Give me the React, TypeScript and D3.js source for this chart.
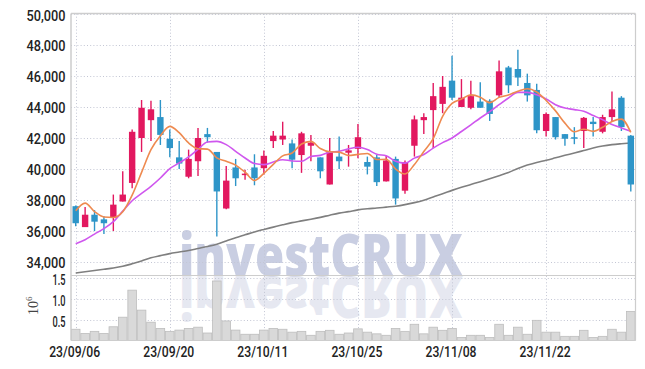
import React from "react";
import * as d3 from "d3";

const dates = [
  "23/09/06","23/09/07","23/09/08","23/09/11","23/09/12","23/09/13","23/09/14","23/09/15","23/09/18","23/09/19",
  "23/09/20","23/09/21","23/09/22","23/09/25","23/09/26","23/09/27","23/10/04","23/10/05","23/10/06","23/10/10",
  "23/10/11","23/10/12","23/10/13","23/10/16","23/10/17","23/10/18","23/10/19","23/10/20","23/10/23","23/10/24",
  "23/10/25","23/10/26","23/10/27","23/10/30","23/10/31","23/11/01","23/11/02","23/11/03","23/11/06","23/11/07",
  "23/11/08","23/11/09","23/11/10","23/11/13","23/11/14","23/11/15","23/11/16","23/11/17","23/11/20","23/11/21",
  "23/11/22","23/11/23","23/11/24","23/11/27","23/11/28","23/11/29","23/11/30","23/12/01","23/12/04","23/12/05",
];
const tickDates = ["23/09/06", "23/09/20", "23/10/11", "23/10/25", "23/11/08", "23/11/22"];

const open = [
  37600, 36250, 37050, 36750, 36850, 37900, 39100, 42000, 43150, 43350,
  41950, 40750, 39500, 40500, 42250, 41100, 37450, 40100, 39650, 40100,
  40050, 41800, 41900, 41650, 40900, 41500, 40750, 39000, 40800, 41050,
  41300, 40450, 40750, 39200, 40650, 38600, 41500, 43150, 43800, 44200,
  45700, 44000, 43950, 44350, 44400, 44750, 46550, 46450, 45550, 45100,
  42450, 43350, 42250, 42050, 42450, 43050, 42400, 43350, 44600, 42150,
];
const high = [
  37650, 37550, 37350, 36950, 38350, 39850, 42550, 44450, 44400, 44450,
  42550, 41800, 41250, 42650, 42650, 41100, 40200, 40650, 39950, 40950,
  41200, 42450, 43050, 41900, 42400, 42200, 40750, 42000, 42100, 41550,
  42900, 40800, 40900, 40850, 40800, 40550, 43450, 43600, 45550, 46000,
  47300, 45800, 45700, 45600, 44500, 47000, 46650, 47700, 46150, 45500,
  43650, 43350, 42250, 42700, 43350, 43350, 43500, 45000, 44700, 42200,
];
const low = [
  36300, 36250, 36000, 35800, 36000, 37900, 38750, 41100, 41800, 41550,
  40750, 40000, 39400, 39550, 41700, 35650, 37400, 38900, 39300, 38950,
  39650, 41350, 41550, 40050, 39750, 40500, 39400, 39000, 40000, 40150,
  40700, 39650, 38900, 39200, 37700, 38400, 40800, 42250, 41350, 43600,
  44450, 44000, 43850, 43950, 43100, 44650, 44900, 45350, 44350, 42300,
  42100, 41900, 41500, 41600, 41350, 42100, 42300, 43100, 42450, 38550,
];
const close = [
  36500, 37050, 36600, 36500, 37700, 38350, 42400, 43950, 43850, 42200,
  41350, 40350, 40650, 42000, 42050, 38550, 39250, 39400, 39700, 39400,
  40850, 42150, 42150, 40600, 42300, 41700, 39850, 41100, 40500, 41200,
  42050, 40150, 39150, 40550, 38100, 40450, 43200, 43350, 44700, 45300,
  44600, 44600, 44700, 43950, 43550, 46300, 45400, 45900, 44750, 42500,
  43550, 42050, 41950, 41950, 43300, 42900, 43350, 43850, 42700, 39000,
];
const volume = [
  0.27, 0.17, 0.22, 0.17, 0.33, 0.56, 1.21, 0.73, 0.44, 0.29,
  0.22, 0.25, 0.29, 0.32, 0.18, 1.43, 0.47, 0.25, 0.15, 0.15,
  0.25, 0.29, 0.27, 0.20, 0.22, 0.125, 0.22, 0.245, 0.15, 0.18,
  0.28, 0.20, 0.16, 0.125, 0.29, 0.22, 0.39, 0.16, 0.32, 0.245,
  0.29, 0.07, 0.125, 0.125, 0.07, 0.39, 0.125, 0.32, 0.15, 0.485,
  0.20, 0.20, 0.10, 0.10, 0.245, 0.07, 0.10, 0.27, 0.20, 0.70,
];
const ma5 = [
  37300, 37800, 37250, 36900, 36870, 37240, 38310, 39780, 41250, 42150,
  42750, 42340, 41680, 41310, 41280, 40720, 40500, 40250, 39790, 39260,
  39720, 40300, 40850, 41030, 41610, 41780, 41320, 41110, 41090, 40870,
  40940, 41000, 40610, 40620, 40000, 39680, 40290, 41130, 41960, 43400,
  44230, 44510, 44780, 44630, 44280, 44620, 44780, 45020, 45180, 44970,
  44420, 43750, 42960, 42400, 42560, 42430, 42690, 43070, 43220, 42360,
];
const ma20 = [
  35180, 35440, 35800, 36150, 36600, 37280, 37950, 38420, 38880, 39420,
  40020, 40390, 40780, 41270, 41740, 41780, 41570, 41140, 40710, 40350,
  40280, 40450, 40600, 40520, 40500, 40800, 40880, 41080, 41140, 41300,
  41400, 41250, 40950, 40850, 40500, 40380, 40700, 40930, 41350, 41700,
  42000, 42420, 42850, 43290, 43700, 44150, 44580, 44940, 44940, 44790,
  44520, 44150, 43930, 43830, 43720, 43450, 43180, 42870, 42650, 42430,
];
const ma60 = [
  33290, 33370, 33450, 33530, 33610, 33720, 33880, 34060, 34270, 34410,
  34540, 34640, 34740, 34870, 35000, 35150, 35350, 35560, 35750, 35940,
  36100, 36250, 36400, 36540, 36650, 36760, 36880, 37020, 37150, 37250,
  37360, 37430, 37480, 37540, 37600, 37700, 37830, 37990, 38200, 38400,
  38620, 38820, 39000, 39180, 39370, 39570, 39780, 40030, 40250, 40420,
  40560, 40720, 40880, 41030, 41190, 41350, 41480, 41570, 41630, 41680,
];
const priceTicks = [34000, 36000, 38000, 40000, 42000, 44000, 46000, 48000, 50000];
const volTicks = [0.5, 1.0, 1.5];

const W = 645;
const H = 369;
const L = 71;
const R = 635.5;
const TOP = 13.5;
const SEP = 275.5;
const BOT = 340.5;

const UP = "#e2185f";
const DOWN = "#2e95c8";
const GRID = "#c3c6d4";

export default function App() {
  const x = d3.scaleBand<string>().domain(dates).range([L, R]).padding(0);
  const cx = (d: string) => (x(d) as number) + x.bandwidth() / 2;
  const y = d3.scaleLinear().domain([33160, 50000]).range([275, 14]);
  const yv = d3.scaleLinear().domain([0, 1.56]).range([BOT, 275.6]);

  const line = (vals: number[]) =>
    d3
      .line<number>()
      .x((_, i) => cx(dates[i]))
      .y((v) => y(v))
      .curve(d3.curveMonotoneX)(vals) as string;

  const bw = 6.4;
  const labelFont = "Roboto, 'Noto Sans', sans-serif";

  return (
    <svg
      width={W}
      height={H}
      style={{ position: "absolute", left: 0, top: 0, background: "#fff" }}
    >
      {/* watermark with mirrored reflection */}
      <g fontFamily="'Open Sans', 'Noto Sans', sans-serif" fontWeight={800} fontSize={58}>
        <g transform={`translate(0, ${2 * SEP}) scale(1,-1)`}>
          <text x={179} y={SEP} fill="#e6e8f1" textLength={284} lengthAdjust="spacingAndGlyphs">
            investCRUX
          </text>
        </g>
        <text x={179} y={SEP} fill="#c9cee2" textLength={284} lengthAdjust="spacingAndGlyphs">
          investCRUX
        </text>
      </g>

      {/* grid */}
      <g stroke={GRID} strokeDasharray="1 2.2" strokeWidth={1}>
        {priceTicks.map((t) => (
          <line key={"p" + t} x1={L} x2={R} y1={Math.round(y(t)) + 0.5} y2={Math.round(y(t)) + 0.5} />
        ))}
        {volTicks.map((t) => (
          <line key={"v" + t} x1={L} x2={R} y1={Math.round(yv(t)) + 0.5} y2={Math.round(yv(t)) + 0.5} />
        ))}
        {tickDates.map((d) => (
          <line key={"x" + d} x1={Math.round(cx(d)) + 0.5} x2={Math.round(cx(d)) + 0.5} y1={TOP} y2={BOT} />
        ))}
      </g>

      {/* volume bars */}
      <g fill="#d9d9d9" stroke="#bdbdbd" strokeWidth={0.8}>
        {dates.map((d, i) => (
          <rect
            key={"vb" + d}
            x={(x(d) as number) + 0.4}
            y={yv(volume[i])}
            width={x.bandwidth() - 0.8}
            height={BOT - yv(volume[i])}
          />
        ))}
      </g>

      {/* frame */}
      <g stroke="#cdcdcd" fill="none">
        <line x1={L} x2={R} y1={TOP} y2={TOP} strokeWidth={1.5} />
        <line x1={L} x2={R} y1={SEP} y2={SEP} strokeWidth={1.2} />
        <line x1={L} x2={R} y1={BOT} y2={BOT} strokeWidth={1} />
        <line x1={L} x2={L} y1={TOP} y2={BOT} strokeWidth={1.5} />
        <line x1={R} x2={R} y1={TOP} y2={BOT} strokeWidth={1.2} />
      </g>

      {/* long moving average */}
      <path d={line(ma60)} fill="none" stroke="#7f7f7f" strokeWidth={1.6} />

      {/* candles */}
      <g>
        {dates.map((d, i) => {
          const up = close[i] >= open[i];
          const c = up ? UP : DOWN;
          const top = y(Math.max(open[i], close[i]));
          const bot = y(Math.min(open[i], close[i]));
          const xc = cx(d);
          return (
            <g key={"c" + d}>
              <line x1={xc} x2={xc} y1={y(high[i])} y2={y(low[i])} stroke={c} strokeWidth={1.4} />
              <rect
                x={xc - bw / 2}
                y={top}
                width={bw}
                height={Math.max(1.5, bot - top)}
                fill={c}
              />
            </g>
          );
        })}
      </g>

      <path d={line(ma20)} fill="none" stroke="#cf57ee" strokeWidth={1.6} />
      <path d={line(ma5)} fill="none" stroke="#ee8a50" strokeWidth={1.6} />

      {/* y labels */}
      <g fontFamily={labelFont} fontSize={14} fontWeight={500} fill="#222" textAnchor="end">
        {priceTicks.map((t) => (
          <text
            key={"pl" + t}
            x={65.5}
            y={y(t) + 1.5}
            dominantBaseline="central"
            textLength={39}
            lengthAdjust="spacingAndGlyphs"
          >
            {d3.format(",")(t)}
          </text>
        ))}
        {volTicks.map((t) => (
          <text
            key={"vl" + t}
            x={65.5}
            y={yv(t) + 2}
            dominantBaseline="central"
            textLength={13}
            lengthAdjust="spacingAndGlyphs"
          >
            {d3.format(".1f")(t)}
          </text>
        ))}
      </g>

      {/* 10^6 */}
      <text
        transform="translate(38, 315) rotate(-90)"
        fontFamily="'Liberation Serif', serif"
        fontSize={14}
        fill="#444"
      >
        10
        <tspan dy={-6} fontSize={9}>
          6
        </tspan>
      </text>

      {/* x labels */}
      <g fontFamily={labelFont} fontSize={15.5} fontWeight={500} fill="#222" textAnchor="middle">
        {tickDates.map((d) => (
          <text
            key={"xl" + d}
            x={cx(d) - 1}
            y={357}
            textLength={51}
            lengthAdjust="spacingAndGlyphs"
          >
            {d}
          </text>
        ))}
      </g>
    </svg>
  );
}
